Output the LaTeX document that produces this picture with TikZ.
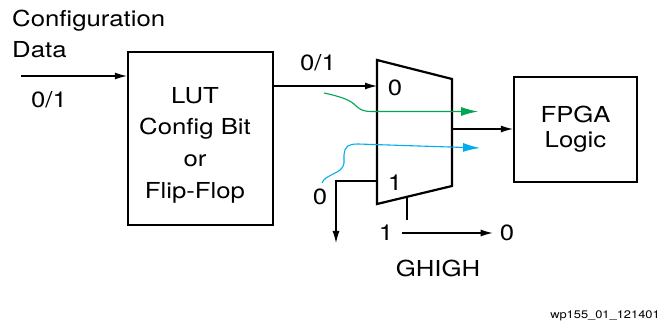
\documentclass[tikz,border=0pt]{standalone}
\usepackage{fontspec}
\setmainfont[FakeStretch=1.17]{TeX Gyre Heros}
\usetikzlibrary{arrows.meta}
\definecolor{sigGreen}{RGB}{0,166,81}
\definecolor{sigBlue}{RGB}{0,174,239}
\begin{document}
\begin{tikzpicture}[x=1pt,y=-1pt,
  lbl/.style={inner sep=0pt, font=\fontsize{22}{25}\selectfont},
  blockbox/.style={draw, line width=2.2pt, inner sep=0pt, align=center},
  wire/.style={line width=1.1pt},
  arr/.style={wire, -{Latex[length=12pt,width=7pt]}},
  flow/.style={line width=1.1pt, -{Latex[length=17pt,width=9pt]}},
]
\useasboundingbox (0,0) rectangle (662,326);

% blocks
\node[blockbox, minimum width=145pt, minimum height=173pt] (lut) at (200.5,138.5) {};
\node[lbl, align=center, font=\fontsize{22}{31.7}\selectfont] (luttext) at (195,145)
      {LUT\\Config Bit\\or\\Flip-Flop};
\node[blockbox, minimum width=123pt, minimum height=105pt,
      font=\fontsize{22}{25}\selectfont] (fpga) at (575.5,129.5)
      {FPGA\\Logic};

% mux
\coordinate (mTL) at (377,60);
\coordinate (mTR) at (452,79);
\coordinate (mBR) at (452,186);
\coordinate (mBL) at (377,204);
\draw[line width=2.2pt, line join=miter] (mTL) -- (mTR) -- (mBR) -- (mBL) -- cycle;
\node[lbl] (m0) at (395,88) {0};
\node[lbl] (m1) at (395,183) {1};
\coordinate (mIn0) at (377,86);
\coordinate (mIn1) at (377,181);
\coordinate (mOut) at (452,129);
\coordinate (mSel) at (407,197);

% configuration input
\node[lbl, anchor=base west] (cfg) at (12,27) {Configuration};
\node[lbl, anchor=base west] (data) at (12,58) {Data};
\coordinate (cfgIn) at (21,76);
\draw[arr] (cfgIn) -- (cfgIn -| lut.west);
\node[lbl] (in01) at (49,100) {0/1};

% LUT to mux
\draw[arr] (lut.east |- mIn0) -- (mIn0);
\node[lbl] (lut01) at (318,63) {0/1};

% mux output
\draw[arr] (mOut) -- (mOut -| fpga.west);

% input 1 leaving downward
\coordinate (dn) at (336,243);
\draw[arr] (mIn1) -| (dn);
\node[lbl] (z1) at (320,197) {0};

% select
\coordinate (selEnd) at (407,220);
\draw[wire] (mSel) -- (selEnd);
\node[lbl] (s1) at (386,233) {1};
\node[lbl] (s0) at (507,233) {0};
\draw[arr] ([xshift=9pt]s1.east) -- ([xshift=-7pt]s0.west);
\node[lbl] (ghigh) at (438,268) {GHIGH};

% signal flows
\coordinate (gS) at (324,93);
\coordinate (gE) at (478,111.5);
\draw[flow, sigGreen] (gS) .. controls (338,96) and (348,99) .. (354,104)
  .. controls (360,110) and (363,111.5) .. (372,111.5) -- (gE);
\coordinate (bS) at (322,183);
\coordinate (bE) at (480,148);
\draw[flow, sigBlue] (bS) .. controls (325,174) and (343,174) .. (344,163)
  -- (344,155) .. controls (345,146) and (348,144) .. (358,144) -- (bE);

% caption
\node[inner sep=0pt, anchor=base, font=\fontsize{11}{13}\selectfont] (cap) at (605,318) {wp155\_01\_121401};
\end{tikzpicture}
\end{document}
